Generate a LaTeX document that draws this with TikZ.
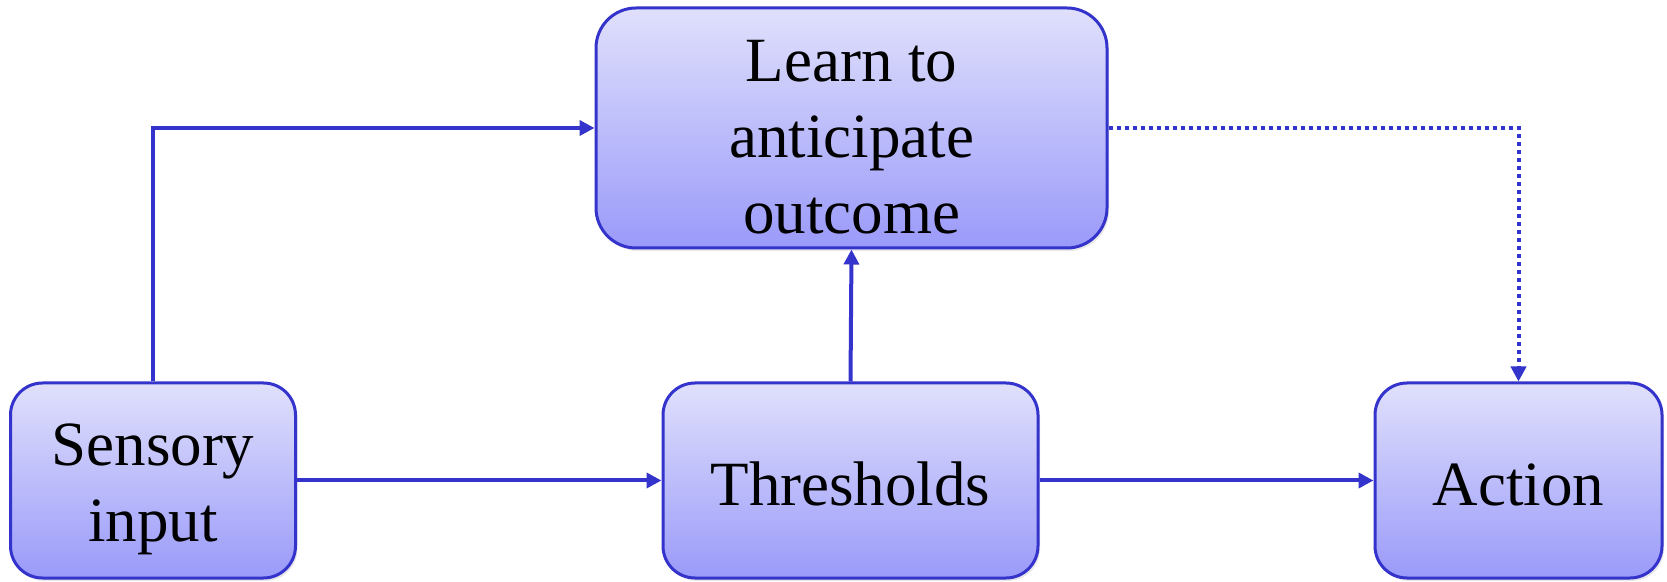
\documentclass[tikz,border=0pt]{standalone}
\usepackage{fontspec}
\setmainfont{Liberation Serif}
\usetikzlibrary{arrows.meta,positioning,shadows}
\definecolor{boxline}{RGB}{52,52,204}
\definecolor{boxtop}{RGB}{224,224,252}
\definecolor{boxbottom}{RGB}{154,154,250}

\begin{document}
\begin{tikzpicture}[x=1pt, y=1pt,
    box/.style={draw=boxline, line width=3pt, rounded corners=32pt,
      top color=boxtop, bottom color=boxbottom, align=center,
      font=\fontsize{63}{76}\selectfont, inner sep=0pt,
      drop shadow={opacity=0.18, shadow xshift=2pt, shadow yshift=-3pt}},
    link/.style={draw=boxline, line width=4pt,
      -{Triangle[length=15pt, width=15pt]}}]
    \useasboundingbox (0,0) rectangle (1667,581);
    \node (sensory) [box, minimum width=285pt, minimum height=195pt] at (153,100.5) {\rule{0pt}{60pt}Sensory\\input};
    \node (thresholds) [box, minimum width=375pt, minimum height=195pt] at (850.5,100.5) {\rule{0pt}{50pt}Thresholds};
    \node (action) [box, minimum width=287pt, minimum height=195pt] at (1518.5,100.5) {\rule{0pt}{50pt}Action};
    \node (learn) [box, rounded corners=40pt, minimum width=511pt, minimum height=240pt] at (851.5,453) {\rule{0pt}{60pt}Learn to\\anticipate\\outcome};
    \draw[link] (sensory.north) |- (learn.west);
    \draw[link] (sensory.east) -- (thresholds.west);
    \draw[link] (thresholds.east) -- (action.west);
    \draw[link] (thresholds.north) -- (learn.south);
    \draw[link, dash pattern=on 4pt off 4pt] (learn.east) -| (action.north);
\end{tikzpicture}
\end{document}
